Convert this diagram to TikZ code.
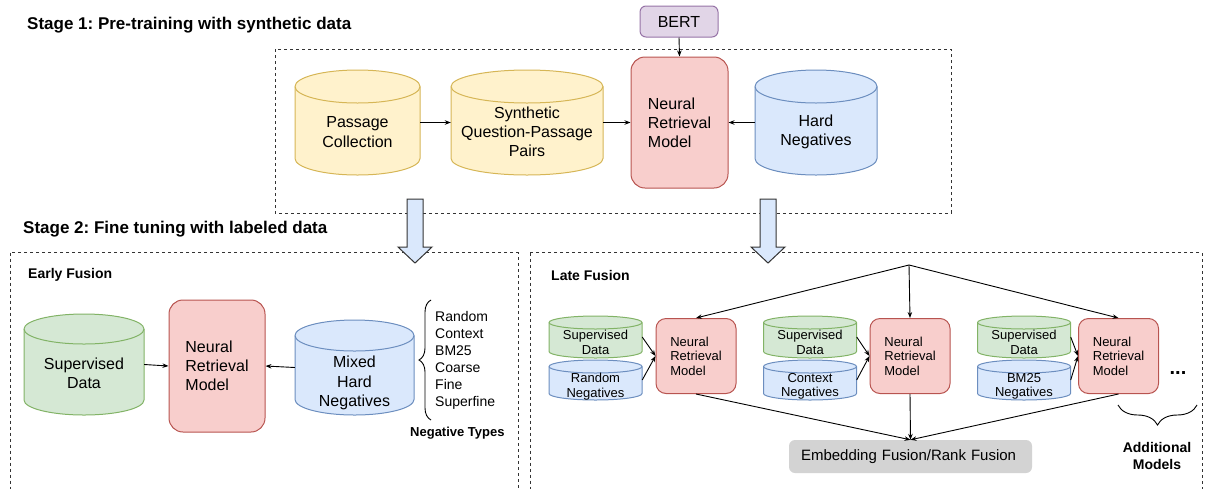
\documentclass[tikz,border=0pt]{standalone}
\usepackage{fontspec}
\setmainfont{Liberation Sans}
\usetikzlibrary{arrows.meta, decorations.pathreplacing, positioning}
\definecolor{yelfill}{HTML}{FFF2CC}
\definecolor{yelline}{HTML}{D6B656}
\definecolor{redfill}{HTML}{F8CECC}
\definecolor{redline}{HTML}{B85450}
\definecolor{bluefill}{HTML}{DAE8FC}
\definecolor{blueline}{HTML}{6C8EBF}
\definecolor{grnfill}{HTML}{D5E8D4}
\definecolor{grnline}{HTML}{82B366}
\definecolor{purfill}{HTML}{E1D5E7}
\definecolor{purline}{HTML}{9673A6}
\definecolor{embfill}{HTML}{D3D3D3}
\definecolor{boxline}{HTML}{333333}
% database cylinder: name, x, y, width, height, ellipse radius, colour, label
\newcommand{\cyl}[8]{%
  \filldraw[fill=#7fill, draw=#7line, line width=1pt]
    (#2-#4/2, #3-#5/2+#6) -- (#2-#4/2, #3+#5/2-#6)
    arc[start angle=180, end angle=360, x radius=#4*0.5pt, y radius=#6pt]
    -- (#2+#4/2, #3-#5/2+#6)
    arc[start angle=0, end angle=180, x radius=#4*0.5pt, y radius=#6pt] -- cycle;
  \draw[draw=#7line, line width=1pt] (#2-#4/2, #3-#5/2+#6)
    arc[start angle=180, end angle=360, x radius=#4*0.5pt, y radius=#6pt];
  \node[minimum width=#4, minimum height=#5, inner sep=0pt, label={#8}] (#1) at (#2,#3) {};
}

\begin{document}
\frenchspacing
\begin{tikzpicture}[x=1pt, y=-1pt,
    lbl/.style={align=center, yshift=-9.5pt, font=\fontsize{16}{19.2}\selectfont},
    slbl/.style={align=center, yshift=-5.5pt, font=\fontsize{13}{14.5}\selectfont},
    model/.style={draw=redline, fill=redfill, line width=1pt, rounded corners=14, align=left, inner sep=0pt, font=\fontsize{16}{19.2}\selectfont},
    smodel/.style={model, rounded corners=10, font=\fontsize{13}{14.5}\selectfont},
    title/.style={anchor=west, inner sep=0pt, font=\fontsize{17}{20}\selectfont\bfseries},
    hdr/.style={anchor=west, inner sep=0pt, font=\fontsize{14}{16.8}\selectfont\bfseries},
    stagebox/.style={draw=boxline, line width=1pt, dash pattern=on 3pt off 3pt},
    arr/.style={-{Stealth[length=6pt, width=4.5pt]}, line width=0.9pt},
    blockarr/.style={draw=boxline, fill=bluefill, line width=1pt, line join=miter}
  ]
  \useasboundingbox (0,0) rectangle (1206,488);

  % stage 1
  \node[title] (t1) at (27,25) {Stage 1: Pre-training with synthetic data};
  \draw[stagebox] (275,49) rectangle (951,213);
  \node[draw=purline, fill=purfill, line width=1pt, rounded corners=6, minimum width=78, minimum height=31, font=\fontsize{16}{19.2}\selectfont] (bert) at (679,21.5) {BERT};
  \cyl{pc}{357.5}{122.5}{125}{105}{16.5}{yel}{[lbl]center:Passage\\Collection}
  \cyl{sq}{527}{122.5}{152}{105}{16.5}{yel}{[lbl]center:Synthetic\\Question-Passage\\Pairs}
  \node[model, minimum width=97, minimum height=131] (nrm) at (679.5,122.5) {Neural\\Retrieval\\Model};
  \cyl{hn}{816}{122.5}{122}{105}{16.5}{blue}{[lbl]center:Hard\\Negatives}
  \draw[arr] (pc.east) -- (sq.west);
  \draw[arr] (sq.east) -- (nrm.west);
  \draw[arr] (hn.west) -- (nrm.east);
  \draw[arr] (bert.south) -- (nrm.north);

  % stage 2
  \node[title] (t2) at (23,229.5) {Stage 2: Fine tuning with labeled data};
  \draw[stagebox] (10,252.5) rectangle (518,500);
  \draw[stagebox] (530,252.5) rectangle (1202,500);
  \foreach \cx in {415,768}{
    \draw[blockarr] (\cx-8,199) -- (\cx+8,199) -- (\cx+8,247) -- (\cx+17,247) -- (\cx,263) -- (\cx-17,247) -- (\cx-8,247) -- cycle;
  }

  % early fusion
  \node[hdr] (ef) at (28,275) {Early Fusion};
  \cyl{sd}{84}{364.5}{120}{101}{15}{grn}{[lbl, yshift=0.5pt]center:Supervised\\Data}
  \node[model, minimum width=96, minimum height=132] (nrme) at (217,366) {Neural\\Retrieval\\Model};
  \cyl{mhn}{354.5}{367.5}{119}{95}{15.5}{blue}{[lbl, yshift=-6pt]center:Mixed\\Hard\\Negatives}
  \draw[arr] (sd.east) -- (nrme.west);
  \draw[arr] (mhn.west) -- (nrme.east);
  \draw[decorate, decoration={brace, amplitude=12pt}, line width=0.9pt] (431,420) -- (431,300);
  \node[anchor=west, inner sep=0pt, align=left, font=\fontsize{14}{17}\selectfont] (types) at (435,360) {Random\\Context\\BM25\\Coarse\\Fine\\Superfine};
  \node[hdr, font=\fontsize{13}{15.6}\selectfont\bfseries] (nt) at (410,433) {Negative Types};

  % late fusion
  \node[hdr] (lf) at (551,275) {Late Fusion};
  \coordinate (split) at (909,265);
  \node[draw=none, fill=embfill, rounded corners=6, minimum height=33, text width=219, inner xsep=12, align=left, font=\fontsize{15}{18}\selectfont] (emb) at (910.5,456.5) {Embedding Fusion/Rank Fusion};
  \foreach \i/\x/\m/\neg in {1/595.5/696/Random, 2/810/910/Context, 3/1024/1118.5/BM25}{
    \cyl{sd\i}{\x}{337}{93}{42}{6.5}{grn}{[slbl]center:Supervised\\Data}
    \cyl{ng\i}{\x}{380}{93}{40}{6.5}{blue}{[slbl, yshift=-1pt]center:\neg\\Negatives}
    \node[smodel, minimum width=80, minimum height=75] (m\i) at (\m,356) {Neural\\Retrieval\\Model};
    \draw[arr] (sd\i.east) -- (m\i.west);
    \draw[arr] (ng\i.east) -- (m\i.west);
    \draw[arr] (split) -- (m\i.north);
    \draw[arr] (m\i.south) -- (emb.north);
  }
  \node[font=\fontsize{20}{22}\selectfont\bfseries, inner sep=0pt] (dots) at (1178,373) {...};
  \draw[decorate, decoration={brace, amplitude=20pt}, line width=0.9pt] (1197,405) -- (1118,405);
  \node[align=center, inner sep=0pt, font=\fontsize{14}{16.5}\selectfont\bfseries] (am) at (1157,456) {Additional\\Models};
\end{tikzpicture}
\end{document}
